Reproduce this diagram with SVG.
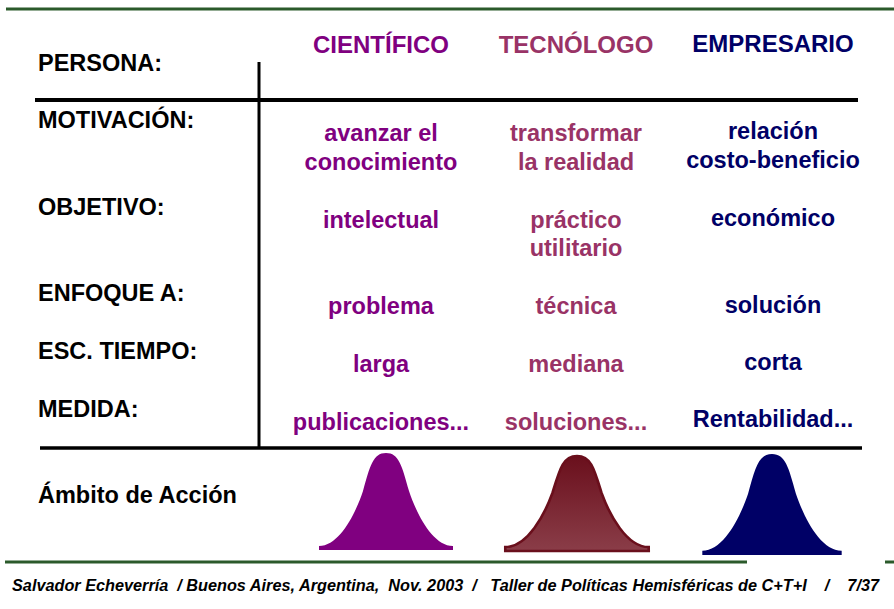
<svg xmlns="http://www.w3.org/2000/svg" width="894" height="609" viewBox="0 0 894 609">
<style>
text { font-family: "Liberation Sans", Arial, sans-serif; font-weight: bold; }
.lbl { font-size: 23.5px; fill: #000; }
.hd { font-size: 24px; text-anchor: middle; }
.c { font-size: 23.5px; text-anchor: middle; }
.p { fill: #800080; }
.r { fill: #993366; }
.n { fill: #000066; }
.rule { stroke: #000; fill: none; }
.green { stroke: #2b5a2b; stroke-width: 3; fill: none; }
.foot { font-size: 16px; font-style: italic; fill: #000; white-space: pre; }
</style>
<defs>
<path id="bell" d="M-67,0 L-67,-4 C-46,-4 -30,-38 -23,-59 C-16,-84 -13,-97 0,-97 C13,-97 16,-84 23,-59 C30,-38 46,-4 67,-4 L67,0 Z"/>
<linearGradient id="mg" x1="0" y1="0" x2="0" y2="1">
<stop offset="0" stop-color="#6a0f1c"/>
<stop offset="1" stop-color="#8a3d48"/>
</linearGradient>
</defs>
<g id="frame">
<line class="green" x1="6" y1="9" x2="894" y2="9"/>
<line class="green" x1="5" y1="562" x2="747" y2="562"/>
<line class="green" x1="885" y1="562" x2="894" y2="562"/>
<line class="rule" x1="35" y1="100" x2="858" y2="100" stroke-width="4"/>
<line class="rule" x1="259" y1="62" x2="259" y2="447" stroke-width="3"/>
<line class="rule" x1="40" y1="448" x2="862" y2="448" stroke-width="3.5"/>
</g>
<g id="row-labels">
<text class="lbl" x="38" y="71">PERSONA:</text>
<text class="lbl" x="38" y="128">MOTIVACIÓN:</text>
<text class="lbl" x="38" y="215">OBJETIVO:</text>
<text class="lbl" x="38" y="301">ENFOQUE A:</text>
<text class="lbl" x="38" y="359">ESC. TIEMPO:</text>
<text class="lbl" x="38" y="417">MEDIDA:</text>
<text class="lbl" x="38" y="503">Ámbito de Acción</text>
</g>
<g id="col-cientifico" class="p">
<text class="hd" x="381" y="53">CIENTÍFICO</text>
<text class="c" x="381" y="141">avanzar el</text>
<text class="c" x="381" y="170">conocimiento</text>
<text class="c" x="381" y="228">intelectual</text>
<text class="c" x="381" y="314">problema</text>
<text class="c" x="381" y="372">larga</text>
<text class="c" x="381" y="430">publicaciones...</text>
<use href="#bell" transform="translate(386,550) scale(1.0,1.0)"/>
</g>
<g id="col-tecnologo" class="r">
<text class="hd" x="576" y="53">TECNÓLOGO</text>
<text class="c" x="576" y="141">transformar</text>
<text class="c" x="576" y="170">la realidad</text>
<text class="c" x="576" y="228">práctico</text>
<text class="c" x="576" y="256">utilitario</text>
<text class="c" x="576" y="314">técnica</text>
<text class="c" x="576" y="372">mediana</text>
<text class="c" x="576" y="430">soluciones...</text>
<use href="#bell" transform="translate(577,551) scale(1.07,0.98)" fill="url(#mg)" stroke="#6a0f1c" stroke-width="2.5"/>
</g>
<g id="col-empresario" class="n">
<text class="hd" x="773" y="52">EMPRESARIO</text>
<text class="c" x="773" y="139">relación</text>
<text class="c" x="773" y="168">costo-beneficio</text>
<text class="c" x="773" y="226">económico</text>
<text class="c" x="773" y="313">solución</text>
<text class="c" x="773" y="370">corta</text>
<text class="c" x="773" y="427">Rentabilidad...</text>
<use href="#bell" transform="translate(772,555) scale(1.04,1.04)"/>
</g>
<g id="footer">
<text class="foot" x="12" y="591" textLength="867" lengthAdjust="spacingAndGlyphs">Salvador Echeverría  / Buenos Aires, Argentina,  Nov. 2003  /   Taller de Políticas Hemisféricas de C+T+I    /    7/37</text>
</g>
</svg>
